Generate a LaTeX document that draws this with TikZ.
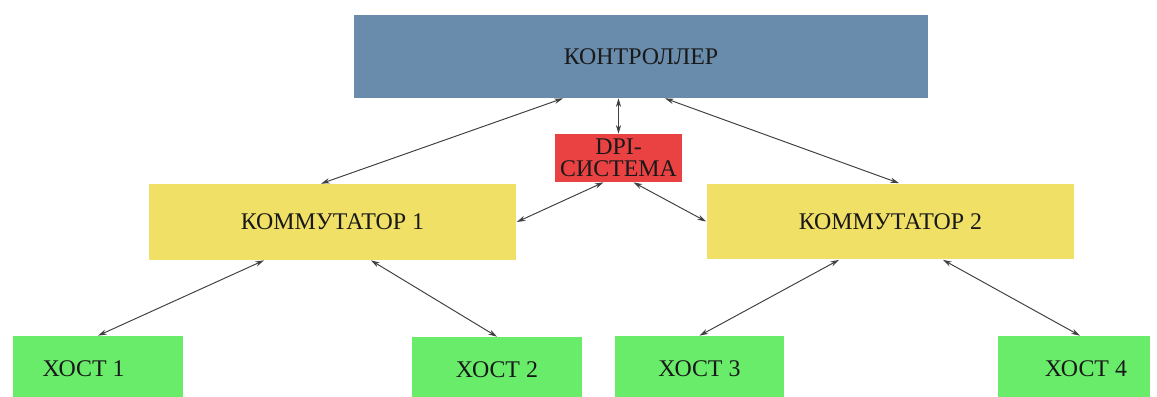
\documentclass[tikz,border=0pt]{standalone}
\usepackage{fontspec}
\setmainfont{Liberation Serif}
\usetikzlibrary{arrows.meta,positioning}

\definecolor{ctrlblue}{RGB}{106,140,172}
\definecolor{dpired}{RGB}{234,66,66}
\definecolor{switchyellow}{RGB}{240,224,102}
\definecolor{hostgreen}{RGB}{104,236,106}

\tikzset{
    box/.style={inner sep=0pt, align=center, text=black!90,
        font=\fontsize{13.6}{12.4}\selectfont},
    controller/.style={box, fill=ctrlblue, minimum width=11.48cm, minimum height=1.66cm},
    dpibox/.style={box, fill=dpired, minimum width=2.54cm, minimum height=0.96cm},
    switchbox/.style={box, fill=switchyellow, minimum width=7.36cm, minimum height=1.52cm},
    hostbox/.style={box, fill=hostgreen, minimum width=3.4cm, minimum height=1.32cm},
    link/.style={{Stealth[length=5pt,width=3pt]}-{Stealth[length=5pt,width=3pt]},
        line width=0.55pt, draw=black!75}
}

\begin{document}
\begin{tikzpicture}[x=0.02cm, y=-0.02cm]
    \clip (0,0) rectangle (1157,396);
    \fill[white] (0,0) rectangle (1157,396);

    \node[controller] (ctrl) at (641,56.5) {КОНТРОЛЛЕР};
    \node[dpibox] (dpi) at (618.5,158) {DPI-\\СИСТЕМА};
    \node[switchbox] (sw1) at (332.5,222) {КОММУТАТОР 1};
    \node[switchbox] (sw2) at (890.5,221.5) {КОММУТАТОР 2};
    \node[hostbox] (host1) at (98,369) {ХОСТ 1\hspace{1.2em}};
    \node[hostbox] (host2) at (497,370) {ХОСТ 2};
    \node[hostbox] (host3) at (699.5,369) {ХОСТ 3};
    \node[hostbox, minimum width=3.04cm] (host4) at (1074,369) {\hspace{1em}ХОСТ 4};

    \draw[link] ([xshift=-1.56cm]ctrl.south) -- ([xshift=-0.23cm]sw1.north);
    \draw[link] (dpi.north |- ctrl.south) -- (dpi.north);
    \draw[link] ([xshift=0.48cm]ctrl.south) -- ([xshift=0.17cm]sw2.north);
    \draw[link] ([xshift=-0.3cm]dpi.south) -- (sw1.east);
    \draw[link] ([xshift=0.3cm]dpi.south) -- (sw2.west);
    \draw[link] ([xshift=-1.37cm]sw1.south) -- (host1.north);
    \draw[link] ([xshift=0.77cm]sw1.south) -- (host2.north);
    \draw[link] ([xshift=-1.03cm]sw2.south) -- (host3.north);
    \draw[link] ([xshift=1.05cm]sw2.south) -- ([xshift=0.12cm]host4.north);
\end{tikzpicture}
\end{document}
